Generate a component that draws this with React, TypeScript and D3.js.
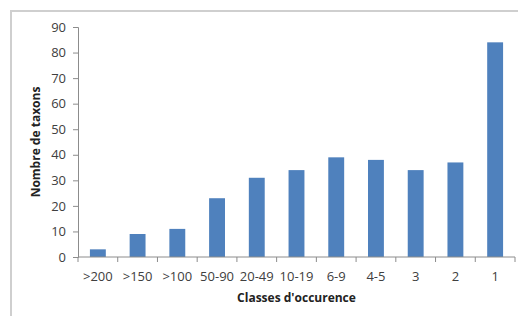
import React, { useEffect, useRef } from 'react'
import * as d3 from 'd3'

const categories = ['>200', '>150', '>100', '50-90', '20-49', '10-19', '6-9', '4-5', '3', '2', '1']
const taxons = [3, 9, 11, 23, 31, 34, 39, 38, 34, 37, 84]
const yTicks = [0, 10, 20, 30, 40, 50, 60, 70, 80, 90]

const width = 518
const height = 316
const left = 78
const right = 515
const top = 27
const bottom = 257
const font = 'Open Sans, Liberation Sans, sans-serif'

const App = () => {
  const ref = useRef<SVGSVGElement>(null)

  useEffect(() => {
    const svg = d3.select(ref.current)
    svg.selectAll('*').remove()

    // frame of the chart area (only top and left visible)
    svg.append('path')
      .attr('d', `M11,${height} V11 H${width}`)
      .attr('fill', 'none')
      .attr('stroke', '#cfcfcf')
      .attr('stroke-width', 2)

    const x = d3.scaleBand<string>()
      .domain(categories)
      .range([left, right])
      .paddingInner(0.6)
      .paddingOuter(0.3)

    const xTicks = d3.scaleBand<string>().domain(categories).range([left, right])

    const y = d3.scaleLinear().domain([0, 90]).range([bottom, top])

    svg.selectAll('rect.bar')
      .data(taxons)
      .enter()
      .append('rect')
      .attr('class', 'bar')
      .attr('x', (d, i) => x(categories[i])!)
      .attr('y', d => y(d))
      .attr('width', x.bandwidth())
      .attr('height', d => bottom - y(d))
      .attr('fill', '#4f81bd')

    // y axis
    const yAxis = svg.append('g')
      .attr('transform', `translate(${left},0)`)
      .call(d3.axisLeft(y).tickValues(yTicks).tickSize(5).tickPadding(7))
    yAxis.selectAll('line, path').attr('stroke', '#8c8c8c')
    yAxis.selectAll('text')
      .attr('fill', '#404040')
      .style('font-family', font)
      .style('font-size', '13px')

    // x axis with ticks on band boundaries
    const xAxis = svg.append('g').attr('transform', `translate(0,${bottom})`)
    xAxis.append('line')
      .attr('x1', left).attr('x2', right)
      .attr('stroke', '#8c8c8c')
    xAxis.selectAll('line.tk')
      .data(categories.concat(['end']))
      .enter()
      .append('line')
      .attr('class', 'tk')
      .attr('x1', (d, i) => left + i * xTicks.bandwidth())
      .attr('x2', (d, i) => left + i * xTicks.bandwidth())
      .attr('y1', 0).attr('y2', 5)
      .attr('stroke', '#8c8c8c')
    xAxis.selectAll('text')
      .data(categories)
      .enter()
      .append('text')
      .attr('x', d => xTicks(d)! + xTicks.bandwidth() / 2)
      .attr('y', 24)
      .attr('text-anchor', 'middle')
      .attr('fill', '#404040')
      .style('font-family', font)
      .style('font-size', '13px')
      .text(d => d)

    svg.append('text')
      .attr('x', (left + right) / 2)
      .attr('y', 302)
      .attr('text-anchor', 'middle')
      .attr('fill', '#222')
      .style('font-family', font)
      .style('font-size', '12px')
      .style('font-weight', 'bold')
      .text("Classes d'occurence")

    svg.append('text')
      .attr('transform', `translate(40,${(top + bottom) / 2}) rotate(-90)`)
      .attr('text-anchor', 'middle')
      .attr('fill', '#222')
      .style('font-family', font)
      .style('font-size', '12px')
      .style('font-weight', 'bold')
      .text('Nombre de taxons')
  }, [])

  return (
    <svg
      ref={ref}
      width={width}
      height={height}
      style={{ position: 'absolute', left: 0, top: 0, background: '#fff' }}
    />
  )
}

export default App
